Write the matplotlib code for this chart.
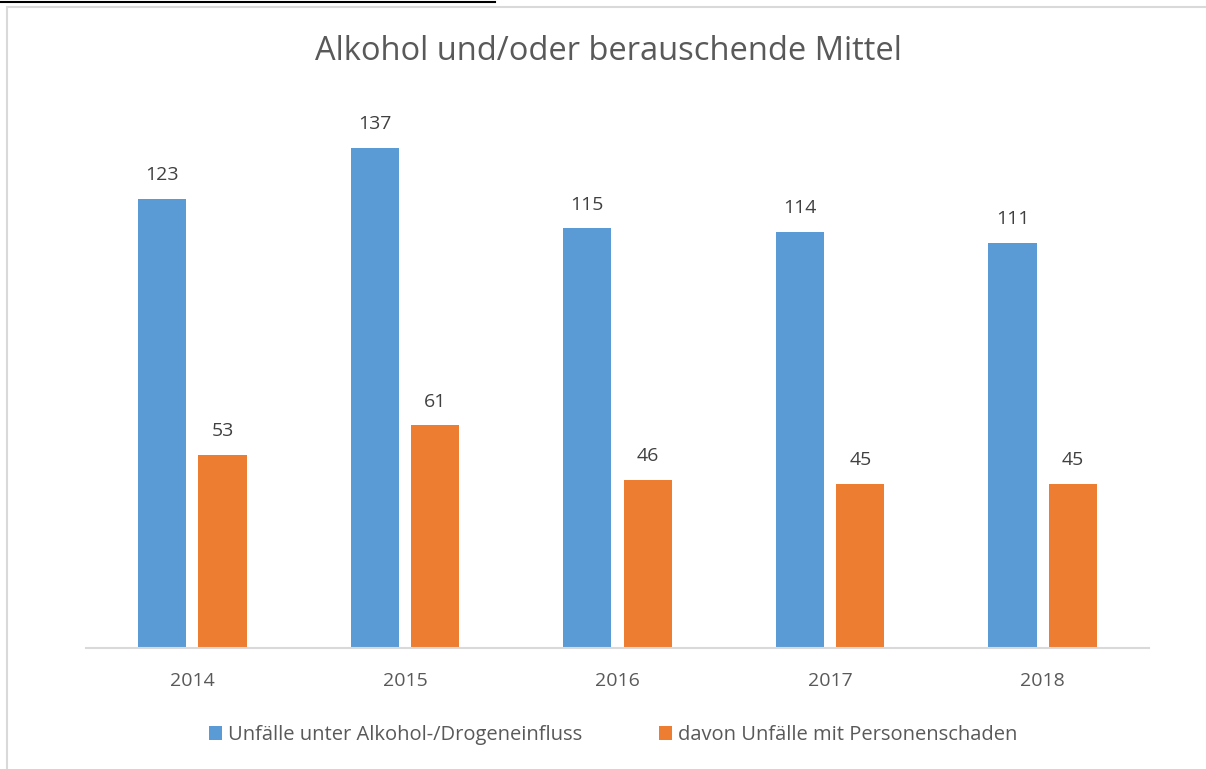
import matplotlib.pyplot as plt
import numpy as np
from matplotlib.patches import Rectangle
from matplotlib.lines import Line2D

years = ["2014", "2015", "2016", "2017", "2018"]
series_names = ["Unfälle unter Alkohol-/Drogeneinfluss", "davon Unfälle mit Personenschaden"]
total = [123, 137, 115, 114, 111]
injury = [53, 61, 46, 45, 45]
title = "Alkohol und/oder berauschende Mittel"

W, H = 1206, 769
fig = plt.figure(figsize=(W/100, H/100), dpi=100)
plt.rcParams['font.family'] = ['Open Sans', 'DejaVu Sans']

# frame border of the chart area
fig.add_artist(Rectangle((7/W, -0.1), 1.2, 1.1 - 7/H, transform=fig.transFigure,
                         fill=False, edgecolor='#D9D9D9', lw=1.5))
# black line at top
fig.add_artist(Line2D([0, 495/W], [1 - 1.5/H, 1 - 1.5/H], transform=fig.transFigure,
                      color='black', lw=1.5))

left, right, bottom, top = 86, 1149, 648, 100
ax = fig.add_axes([left/W, 1 - bottom/H, (right-left)/W, (bottom-top)/H])
x = np.arange(len(years))
bw = 0.226
off = 0.142
b1 = ax.bar(x - off, total, bw, color='#5B9BD5', label=series_names[0], zorder=2)
b2 = ax.bar(x + off, injury, bw, color='#ED7D31', label=series_names[1], zorder=2)
ax.set_xlim(-0.5, len(years) - 0.5)
ax.set_ylim(0, 548/3.65)
for bars, vals in ((b1, total), (b2, injury)):
    for r, v in zip(bars, vals):
        ax.annotate(str(v), (r.get_x() + r.get_width()/2, v), xytext=(0, 17),
                    textcoords='offset points', ha='center', va='center',
                    fontsize=14, color='#404040')
for s in ['top', 'right', 'left']:
    ax.spines[s].set_visible(False)
ax.spines['bottom'].set_color('#D9D9D9')
ax.spines['bottom'].set_linewidth(1.5)
ax.set_yticks([])
ax.set_xticks(x)
ax.set_xticklabels(years, fontsize=14, color='#595959')
ax.tick_params(axis='x', length=0, pad=17)

fig.text(608/W, 1 - 51/H, title, ha='center', va='center', fontsize=23.5, color='#595959')

leg = fig.legend(handles=[b1, b2], labels=series_names, loc='center', bbox_to_anchor=(613/W, 1 - 735/H),
                 ncol=2, frameon=False, fontsize=14.5, handlelength=0.65, handleheight=0.65,
                 handletextpad=0.3, columnspacing=3.8, labelcolor='#595959')

fig.savefig('out.png', dpi=100)
